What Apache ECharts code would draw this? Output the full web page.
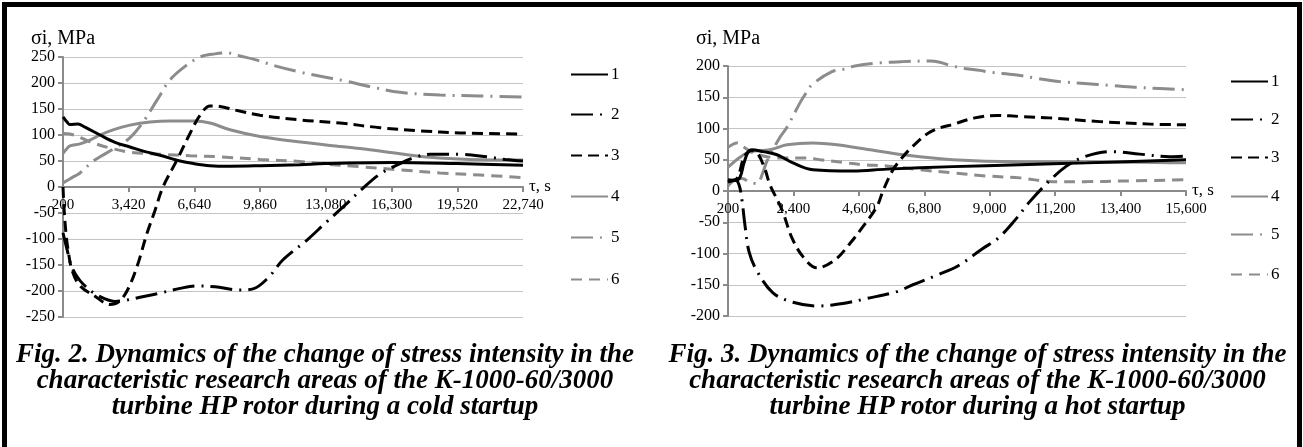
<!DOCTYPE html>
<html>
<head>
<meta charset="utf-8">
<script src="https://cdn.jsdelivr.net/npm/echarts@6/dist/echarts.min.js"></script>
</head>
<body style="margin:0;padding:0;background:#fff">
<div id="wrap" style="position:relative;width:1303px;height:447px;overflow:hidden;background:#fff">
  <div id="chart" style="position:absolute;left:0;top:0;width:1303px;height:447px"></div>
  <div id="frame" style="position:absolute;left:2px;top:2px;width:1290px;height:460px;border:5px solid #000"></div>
  <div style="position:absolute;top:340px;left:0;width:650px;font-family:'Liberation Serif';font-weight:bold;font-style:italic;font-size:27px;line-height:26px;text-align:center;color:#000;white-space:nowrap">Fig. 2. Dynamics of the change of stress intensity in the<br>characteristic research areas of the K-1000-60/3000<br>turbine HP rotor during a cold startup</div>
  <div style="position:absolute;top:340px;left:652px;width:651px;font-family:'Liberation Serif';font-weight:bold;font-style:italic;font-size:27px;line-height:26px;text-align:center;color:#000;white-space:nowrap">Fig. 3. Dynamics of the change of stress intensity in the<br>characteristic research areas of the K-1000-60/3000<br>turbine HP rotor during a hot startup</div>
</div>
<script>
// ---------- Fig. 2 (cold startup) ----------
const coldTicks = [200, 3420, 6640, 9860, 13080, 16300, 19520, 22740];
const coldT1 = [200, 396, 543, 935, 1278, 2013, 2748, 3483, 4218, 4953, 5933, 6600, 7400, 8400, 9900, 11800, 13000, 16300, 19500, 22740];
const coldV1 = [135, 125, 120, 121, 115, 100, 86, 77, 68, 61, 50, 45, 41, 40, 41, 43, 45, 47, 45, 42];
const coldT2 = [200, 396, 641, 1033, 1670, 2258, 2748, 3238, 3973, 4953, 5933, 6766, 7648, 8873, 9510, 10245, 10980, 12156, 13038, 14018, 14851, 15733, 16713, 17448, 18183, 19653, 20976, 21858, 22740];
const coldV2 = [-88, -120, -155, -180, -203, -215, -220, -218, -212, -204, -195, -190, -192, -198, -196, -175, -140, -102, -70, -35, -4, 25, 45, 57, 63, 63, 58, 53, 50];
const coldT3 = [200, 249, 347, 445, 641, 1033, 1768, 2503, 2895, 3336, 3826, 4316, 4708, 5100, 5786, 6423, 6913, 7403, 7893, 8628, 9853, 11813, 13773, 15733, 17693, 19653, 22740];
const coldV3 = [0, -40, -90, -120, -160, -190, -210, -226, -222, -200, -153, -89, -45, 0, 52, 103, 138, 156, 155, 148, 138, 129, 123, 114, 108, 104, 102];
const coldT4 = [200, 396, 543, 1033, 1523, 2013, 2650, 3483, 4463, 5443, 6668, 7403, 8383, 9853, 11323, 13283, 14753, 16713, 18183, 20143, 22740];
const coldV4 = [65, 74, 79, 83, 90, 100, 110, 119, 125, 127, 127, 123, 110, 97, 89, 80, 74, 64, 57, 53, 52];
const coldT5 = [200, 641, 1033, 1621, 2013, 2748, 3336, 3728, 4218, 4806, 5443, 6178, 6913, 7648, 8236, 8873, 9608, 10686, 11813, 12940, 14018, 15243, 16713, 18673, 20633, 22740];
const coldV5 = [8, 18, 27, 48, 58, 75, 90, 105, 130, 167, 206, 232, 250, 256, 258, 252, 245, 232, 221, 212, 204, 193, 182, 177, 175, 173];
const coldT6 = [200, 543, 935, 1523, 2503, 3483, 4953, 6423, 7893, 9853, 11813, 12793, 14753, 16713, 18673, 20633, 22740];
const coldV6 = [103, 102, 97, 87, 75, 67, 63, 60, 58, 53, 49, 45, 39, 33, 27, 23, 18];

// ---------- Fig. 3 (hot startup) ----------
const hotTicks = [200, 2400, 4600, 6800, 9000, 11200, 13400, 15600];
const hotT1 = [200, 435, 603, 738, 872, 1006, 1376, 1846, 2384, 3056, 4400, 5542, 7760, 10011, 12262, 15600];
const hotV1 = [18, 17, 22, 45, 62, 66, 63, 58, 45, 34, 32, 35, 39, 42, 45, 50];
const hotT2 = [200, 435, 570, 670, 771, 906, 1174, 1712, 2384, 3224, 4064, 4870, 5878, 6416, 7256, 7928, 8768, 9272, 9843, 10347, 10918, 11557, 12195, 13102, 14043, 15051, 15600];
const hotV2 = [14, 18, 10, -15, -55, -97, -128, -163, -178, -184, -180, -172, -161, -150, -134, -120, -92, -76, -47, -17, 12, 39, 55, 63, 59, 55, 56];
const hotT3 = [200, 500, 750, 1000, 1200, 1443, 1611, 2014, 2350, 2720, 3190, 3800, 4300, 4736, 5206, 5410, 5700, 5910, 6380, 7020, 7860, 8500, 9240, 10100, 11000, 12700, 14400, 15600];
const hotV3 = [15, 20, 55, 65, 60, 35, 10, -30, -75, -105, -123, -110, -84, -57, -25, 0, 30, 45, 70, 95, 108, 117, 121, 119, 117, 111, 107, 106];
const hotT4 = [200, 603, 939, 1611, 2182, 3056, 3862, 4971, 6080, 7760, 10011, 12262, 15600];
const hotV4 = [38, 54, 63, 66, 74, 77, 74, 66, 58, 50, 47, 47, 45];
const hotT5 = [200, 435, 670, 939, 1174, 1376, 1510, 1947, 2182, 2619, 2787, 3022, 3694, 4098, 4467, 5307, 6080, 6987, 7323, 7659, 8163, 8667, 9003, 9843, 10616, 11355, 12195, 13035, 13875, 14715, 15600];
const hotV5 = [8, 18, 20, 14, 12, 30, 48, 86, 102, 141, 154, 170, 191, 195, 200, 205, 207, 208, 206, 201, 196, 193, 190, 186, 180, 175, 172, 169, 166, 164, 162];
const hotT6 = [200, 500, 800, 1100, 1846, 2854, 3291, 4198, 4736, 5542, 6651, 7760, 8902, 10011, 11120, 12262, 13500, 15600];
const hotV6 = [70, 77, 68, 60, 53, 53, 50, 45, 42, 40, 34, 29, 24, 21, 15, 15, 16, 18];

const seriesNames = ['1', '2', '3', '4', '5', '6'];

// ---------- styles / layout ----------
const SERIF = 'Liberation Serif';
const GRAY = '#8c8c8c';
const styles = [
  { color: '#000', type: 'solid' },
  { color: '#000', type: [22, 7, 2, 7] },
  { color: '#000', type: [11, 6] },
  { color: GRAY, type: 'solid' },
  { color: GRAY, type: [22, 7, 2, 7] },
  { color: GRAY, type: [11, 7] }
];
const grids = [
  { left: 63, top: 57, width: 460, height: 260 },
  { left: 728, top: 66, width: 458, height: 250 }
];
const nameGaps = [8, 17];

const coldT = [coldT1, coldT2, coldT3, coldT4, coldT5, coldT6];
const coldV = [coldV1, coldV2, coldV3, coldV4, coldV5, coldV6];
const hotT = [hotT1, hotT2, hotT3, hotT4, hotT5, hotT6];
const hotV = [hotV1, hotV2, hotV3, hotV4, hotV5, hotV6];

function makeSeries(ts, vs, base, idx) {
  return ts.map((t, i) => ({
    name: seriesNames[i],
    type: 'line',
    xAxisIndex: idx, yAxisIndex: idx,
    data: t.map((x, k) => [x - base, vs[i][k]]),
    showSymbol: false, symbol: 'none',
    smooth: 0.35,
    clip: false,
    z: 10 - i,
    itemStyle: { color: styles[i].color },
    lineStyle: { color: styles[i].color, width: 3, type: styles[i].type }
  }));
}

function xAxisDef(ticks, gridIndex) {
  const base = ticks[0];
  return {
    type: 'value', gridIndex, position: 'bottom',
    offset: -grids[gridIndex].height / 2,   // y range is symmetric, so zero sits mid-height
    min: 0, max: ticks[ticks.length - 1] - base, interval: ticks[1] - ticks[0],
    name: 'τ, s', nameLocation: 'end', nameGap: 6, nameMoveOverlap: false,
    nameTextStyle: { fontFamily: SERIF, fontSize: 17, color: '#000' },
    axisLine: { onZero: false, lineStyle: { color: '#8a8a8a', width: 2 } },
    axisTick: { show: true, length: 5, lineStyle: { color: '#8a8a8a', width: 2 } },
    axisLabel: { margin: 11, fontFamily: SERIF, fontSize: 15, color: '#000',
      formatter: v => (v + base).toLocaleString('en-US') },
    splitLine: { show: false }
  };
}

function yAxisDef(lim, gridIndex) {
  return {
    type: 'value', gridIndex, min: -lim, max: lim, interval: 50,
    name: 'σi, MPa', nameLocation: 'end', nameGap: nameGaps[gridIndex], nameMoveOverlap: false,
    nameTextStyle: { fontFamily: SERIF, fontSize: 20, color: '#000', align: 'center', verticalAlign: 'bottom' },
    axisLine: { show: true, onZero: false, lineStyle: { color: '#8a8a8a', width: 2 } },
    axisTick: { show: true, length: 5, lineStyle: { color: '#8a8a8a', width: 2 } },
    axisLabel: { margin: 8, fontFamily: SERIF, fontSize: 16, color: '#000' },
    splitLine: { show: true, lineStyle: { color: '#c4c4c4', width: 1 } }
  };
}

const legendCold = [75, 115, 156, 197, 238, 280];
const legendHot = [82, 120, 158, 197, 235, 275];
const legends = [];
seriesNames.forEach((n, i) => {
  [[570, legendCold[i]], [1230, legendHot[i]]].forEach(([lx, ly]) => {
    legends.push({
      data: [n], left: lx, top: ly - 9, padding: 0,
      itemWidth: 37, itemHeight: 14, itemGap: 4,
      selectedMode: false,
      itemStyle: { opacity: 0 },
      textStyle: { fontFamily: SERIF, fontSize: 17, color: '#000', padding: [0, 0, 0, -2] }
    });
  });
});

const chart = echarts.init(document.getElementById('chart'), null, { renderer: 'canvas' });
chart.setOption({
  backgroundColor: '#fff',
  animation: false,
  grid: grids,
  xAxis: [xAxisDef(coldTicks, 0), xAxisDef(hotTicks, 1)],
  yAxis: [yAxisDef(250, 0), yAxisDef(200, 1)],
  legend: legends,
  series: [...makeSeries(coldT, coldV, coldTicks[0], 0), ...makeSeries(hotT, hotV, hotTicks[0], 1)]
});
</script>
</body>
</html>
